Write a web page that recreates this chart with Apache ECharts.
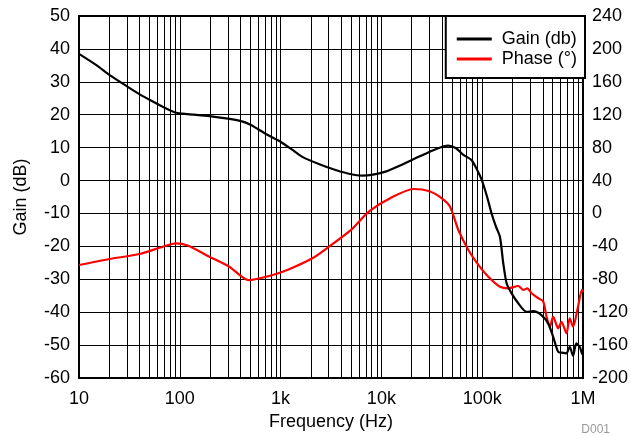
<!DOCTYPE html>
<html>
<head>
<meta charset="utf-8">
<script src="https://cdn.jsdelivr.net/npm/echarts@6/dist/echarts.min.js"></script>
<style>
  html, body { margin: 0; padding: 0; background: #fff; }
  #chart { width: 631px; height: 436px; }
</style>
</head>
<body>
<div id="chart"></div>
<script>
// gain curve (Hz, dB)
const gainFreq = [10, 15, 20, 30, 40, 54, 70, 92, 120, 197, 300, 421, 508, 600, 700, 850, 1000, 1300, 1644, 2500, 3514, 5000, 6400, 8000, 11000, 16000, 23400, 35000, 46000, 55000, 65000, 78700, 90000, 99000, 112000, 124000, 137000, 150000, 162000, 175000, 196000, 228000, 276000, 321000, 387000, 451000, 506000, 567000, 620000, 685000, 739000, 797000, 859000, 927000, 977000, 1000000];
const gainDb = [38.5, 35, 32.1, 28.6, 26.2, 24, 22.2, 20.6, 20.2, 19.6, 18.8, 17.9, 16.9, 15.6, 14.3, 12.9, 11.8, 9.4, 7.2, 4.8, 3.2, 1.9, 1.5, 1.7, 2.7, 4.8, 7.2, 9.6, 10.6, 9.8, 7.8, 6.2, 3, 0.2, -5, -10, -14, -17.1, -25.2, -31.3, -34.3, -37.3, -39.9, -39.7, -40.9, -43.4, -47.5, -52, -52.3, -52.5, -50.5, -53.3, -49.5, -50.5, -52.5, -53];

// phase curve (Hz, degrees)
const phaseFreq = [10, 20, 40, 68, 91, 120, 197, 310, 482, 771, 1200, 2065, 3020, 5000, 7500, 12000, 20900, 30000, 39800, 48000, 58000, 73000, 92000, 115000, 150000, 181000, 228000, 256000, 280000, 309000, 360000, 403000, 435000, 470000, 506000, 567000, 612000, 685000, 739000, 797000, 893000, 977000, 1000000];
const phaseDeg = [-62.7, -55.4, -49.3, -40.4, -36.3, -39, -52.6, -64.7, -81, -76, -68, -54.5, -40.4, -20, 2.1, 18, 29.7, 27, 18.4, 8.2, -20.1, -44.4, -62.7, -76.9, -89, -91, -88.2, -93, -91, -97, -103, -107, -125.5, -137.7, -125.5, -139.6, -131.6, -145.7, -127.4, -137.7, -113.3, -93, -96];

const freqLabels = { 1: '10', 2: '100', 3: '1k', 4: '10k', 5: '100k', 6: '1M' };

// minor vertical grid lines at 2..9 of each decade
const minorLines = [];
for (let d = 10; d < 1e6; d *= 10) {
  for (let k = 2; k <= 9; k++) minorLines.push({ xAxis: d * k });
}

const font = 'Liberation Sans, Arial, sans-serif';
const myChart = echarts.init(document.getElementById('chart'));

const options = {
  animation: false,
  grid: {
    left: 79, right: 46, top: 16, bottom: 58,
    show: true, borderColor: '#000', borderWidth: 2
  },
  legend: {
    data: ['Gain (db)', 'Phase (°)'],
    orient: 'vertical',
    right: 46, top: 16,
    backgroundColor: '#fff',
    borderColor: '#000', borderWidth: 2,
    padding: [14, 8, 10, 11],
    icon: 'rect',
    itemWidth: 35, itemHeight: 3, itemGap: 2,
    textStyle: { fontFamily: font, fontSize: 18, color: '#000', padding: [0, 0, 0, 5] }
  },
  xAxis: {
    type: 'log',
    logBase: 10,
    min: 10, max: 1e6,
    name: 'Frequency (Hz)',
    nameLocation: 'middle',
    nameGap: 35,
    nameTextStyle: { fontFamily: font, fontSize: 18, color: '#000' },
    axisLine: { onZero: false, lineStyle: { color: '#000', width: 2 } },
    axisTick: { show: false },
    axisLabel: {
      fontFamily: font, fontSize: 18, color: '#000', margin: 12,
      formatter: v => freqLabels[Math.round(Math.log10(v))] || ''
    },
    splitLine: { show: true, lineStyle: { color: '#000', width: 1 } }
  },
  yAxis: [{
    type: 'value',
    min: -60, max: 50, interval: 10,
    name: 'Gain (dB)',
    nameLocation: 'middle',
    nameGap: 49,
    nameTextStyle: { fontFamily: font, fontSize: 18, color: '#000' },
    axisLine: { show: true, onZero: false, lineStyle: { color: '#000', width: 2 } },
    axisTick: { show: false },
    axisLabel: { fontFamily: font, fontSize: 18, color: '#000', margin: 9 },
    splitLine: { show: true, lineStyle: { color: '#000', width: 1 } }
  }, {
    type: 'value',
    min: -200, max: 240, interval: 40,
    axisLine: { show: true, onZero: false, lineStyle: { color: '#000', width: 2 } },
    axisTick: { show: false },
    axisLabel: { fontFamily: font, fontSize: 18, color: '#000', margin: 9 },
    splitLine: { show: false }
  }],
  series: [{
    name: 'Gain (db)',
    type: 'line',
    yAxisIndex: 0,
    symbol: 'none',
    smooth: 0.25,
    lineStyle: { color: '#000', width: 2.2 },
    itemStyle: { color: '#000' },
    data: gainFreq.map((f, i) => [f, gainDb[i]]),
    z: 5,
    markLine: {
      silent: true,
      symbol: 'none',
      label: { show: false },
      lineStyle: { color: '#000', width: 1, type: 'solid' },
      data: minorLines,
      z: 1
    }
  }, {
    name: 'Phase (°)',
    type: 'line',
    yAxisIndex: 1,
    symbol: 'none',
    smooth: 0.25,
    lineStyle: { color: '#ff0000', width: 2.2 },
    itemStyle: { color: '#ff0000' },
    data: phaseFreq.map((f, i) => [f, phaseDeg[i]]),
    z: 4
  }],
  graphic: [{
    type: 'text',
    right: 21, bottom: 0,
    style: { text: 'D001', fill: '#999', font: '12px ' + font }
  }]
};

myChart.setOption(options);
</script>
</body>
</html>
